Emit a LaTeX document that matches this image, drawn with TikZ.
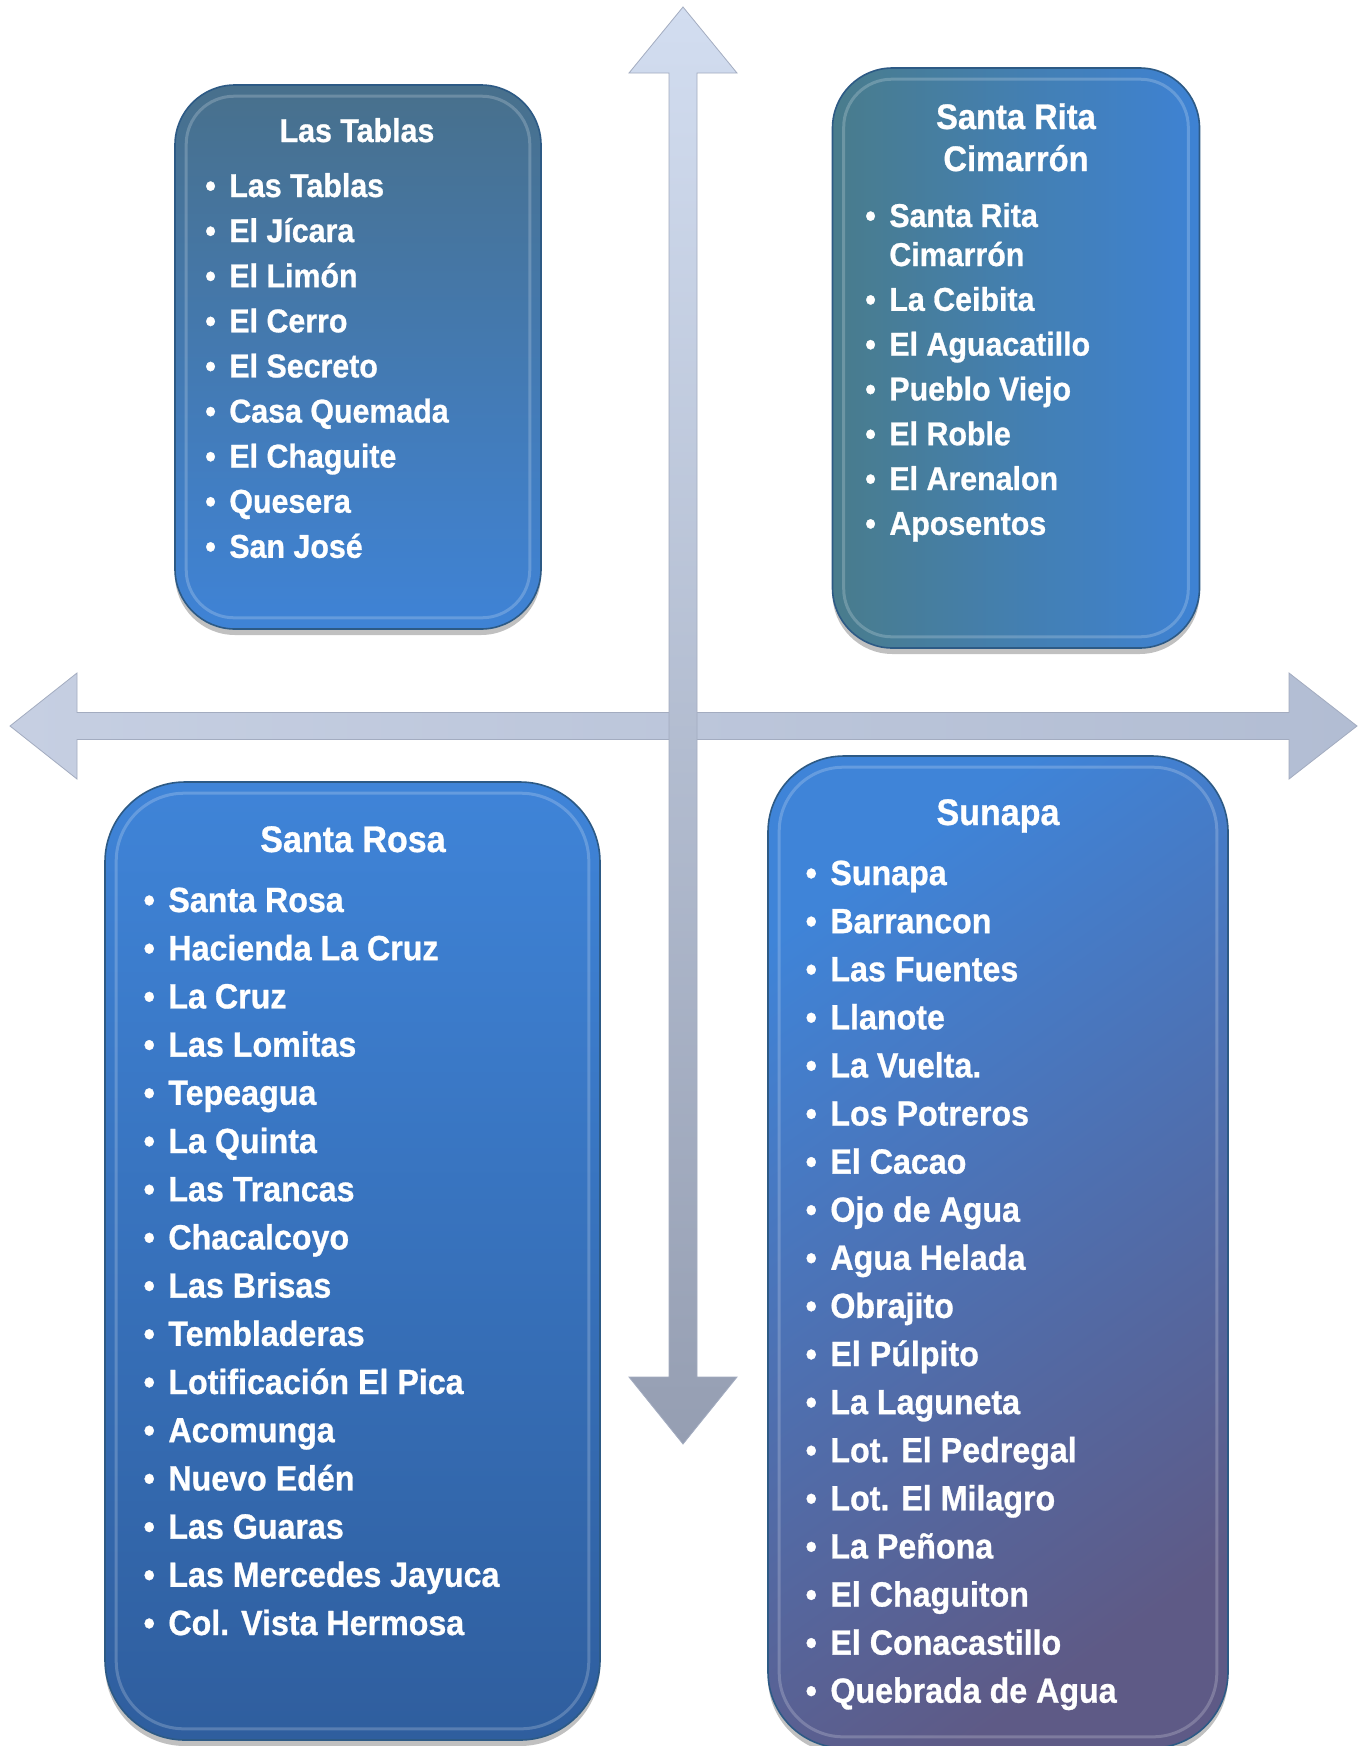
\documentclass[tikz,border=0pt]{standalone}
\usepackage{fontspec}
\newfontfamily\lab{Liberation Sans}[FakeStretch=0.92, FakeBold=0.8]
\usetikzlibrary{shadows}
\definecolor{ltTop}{HTML}{48708C}
\definecolor{ltBot}{HTML}{3F83D6}
\definecolor{srLeft}{HTML}{497C8C}
\definecolor{srRight}{HTML}{3E82D4}
\definecolor{roTop}{HTML}{3F84D8}
\definecolor{roBot}{HTML}{2F5E9E}
\definecolor{suTop}{HTML}{3F84D8}
\definecolor{suMid}{HTML}{4676BF}
\definecolor{suBot}{HTML}{5E5A86}
\definecolor{edgeDark}{HTML}{2D5A85}
\definecolor{arTop}{HTML}{D2DDF0}
\definecolor{arBot}{HTML}{959EB2}
\definecolor{arLeft}{HTML}{C6CFE2}
\definecolor{arRight}{HTML}{B2BDD3}
\definecolor{arEdge}{HTML}{A3ACC0}
\begin{document}
\begin{tikzpicture}[x=0.5pt,y=-0.5pt,
  panel/.style={draw=edgeDark, line width=0.8pt, inner sep=0pt,
    drop shadow={shadow xshift=0pt, shadow yshift=-3pt, opacity=0.35, fill=black!70}},
  bevel/.style={draw=white, draw opacity=0.2, line width=1.5pt},
  upfont/.style={font=\lab\bfseries\fontsize{16.5pt}{19.5pt}\selectfont},
  lowfont/.style={font=\lab\bfseries\fontsize{17.5pt}{21pt}\selectfont},
  item/.style={anchor=base west, inner sep=0pt, text=white},
  ttl/.style={anchor=base, inner sep=0pt, text=white},
  arrowshape/.style={draw=arEdge, line width=0.4pt}
]
\useasboundingbox (0,0) rectangle (1364,1746);
\fill[white] (0,0) rectangle (1364,1746);

% horizontal arrow
\path[arrowshape, left color=arLeft, right color=arRight]
  (10,726) -- (77,673) -- (77,712.5) -- (1289,712.5) -- (1289,673) -- (1357,726)
  -- (1289,779) -- (1289,739.5) -- (77,739.5) -- (77,779) -- cycle;
% vertical arrow
\path[arrowshape, top color=arTop, bottom color=arBot]
  (683,7) -- (737,73) -- (697,73) -- (697,1377) -- (737,1377) -- (683,1444)
  -- (629,1377) -- (669,1377) -- (669,73) -- (629,73) -- cycle;

% boxes
\node[panel, rounded corners=30pt, top color=ltTop, bottom color=ltBot,
  minimum width=183pt, minimum height=272pt] (lt) at (358,357) {};
\node[panel, rounded corners=30pt, left color=srLeft, right color=srRight,
  minimum width=183.5pt, minimum height=290pt] (sr) at (1016,358) {};
\node[panel, rounded corners=40pt, top color=roTop, bottom color=roBot,
  minimum width=247.5pt, minimum height=479pt] (ro) at (352.5,1261) {};
\node[panel, rounded corners=38pt, top color=suTop, middle color=suMid, bottom color=suBot,
  shading angle=35, minimum width=230pt, minimum height=496pt] (su) at (998,1252) {};

% bevel rings
\foreach \b/\r in {lt/24pt, sr/24pt, ro/34pt, su/32pt}{
  \draw[bevel, rounded corners=\r] ([xshift=6pt,yshift=6pt]\b.south west) rectangle ([xshift=-6pt,yshift=-6pt]\b.north east);
}

% Las Tablas
\node[ttl, upfont] (ltT) at (357,142) {Las Tablas};
\foreach \t [count=\i from 0] in {Las Tablas, El Jícara, El Limón, El Cerro, El Secreto, Casa Quemada, El Chaguite, Quesera, San José}
  \node[item, upfont] (lt\i) at (229,{197+45.1*\i}) {\llap{•\hspace{6.75pt}}\t};

% Santa Rita Cimarron
\node[ttl, font=\lab\bfseries\fontsize{17.75pt}{21pt}\selectfont] (srT) at (1016,129) {Santa Rita};
\node[ttl, font=\lab\bfseries\fontsize{17.75pt}{21pt}\selectfont] (srTb) at (1016,171) {Cimarrón};
\node[item, upfont] (sr0) at (889,227) {\llap{•\hspace{6.75pt}}Santa Rita};
\node[item, upfont] (sr0b) at (889,266) {Cimarrón};
\foreach \t [count=\i from 1] in {La Ceibita, El Aguacatillo, Pueblo Viejo, El Roble, El Arenalon, Aposentos}
  \node[item, upfont] (sr\i) at (889,{266+44.8*\i}) {\llap{•\hspace{6.75pt}}\t};

% Santa Rosa
\node[ttl, font=\lab\bfseries\fontsize{18.5pt}{22pt}\selectfont] (roT) at (353,852) {Santa Rosa};
\foreach \t [count=\i from 0] in {Santa Rosa, Hacienda La Cruz, La Cruz, Las Lomitas, Tepeagua, La Quinta, Las Trancas, Chacalcoyo, Las Brisas, Tembladeras, Lotificación El Pica, Acomunga, Nuevo Edén, Las Guaras, Las Mercedes Jayuca, Col. Vista Hermosa}
  \node[item, lowfont] (ro\i) at (168,{912+48.2*\i}) {\llap{•\hspace{6.75pt}}\t};

% Sunapa
\node[ttl, font=\lab\bfseries\fontsize{18.5pt}{22pt}\selectfont] (suT) at (998,825) {Sunapa};
\foreach \t [count=\i from 0] in {Sunapa, Barrancon, Las Fuentes, Llanote, La Vuelta., Los Potreros, El Cacao, Ojo de Agua, Agua Helada, Obrajito, El Púlpito, La Laguneta, Lot. El Pedregal, Lot. El Milagro, La Peñona, El Chaguiton, El Conacastillo, Quebrada de Agua}
  \node[item, lowfont] (su\i) at (830,{885+48.1*\i}) {\llap{•\hspace{6.75pt}}\t};
\end{tikzpicture}
\end{document}
